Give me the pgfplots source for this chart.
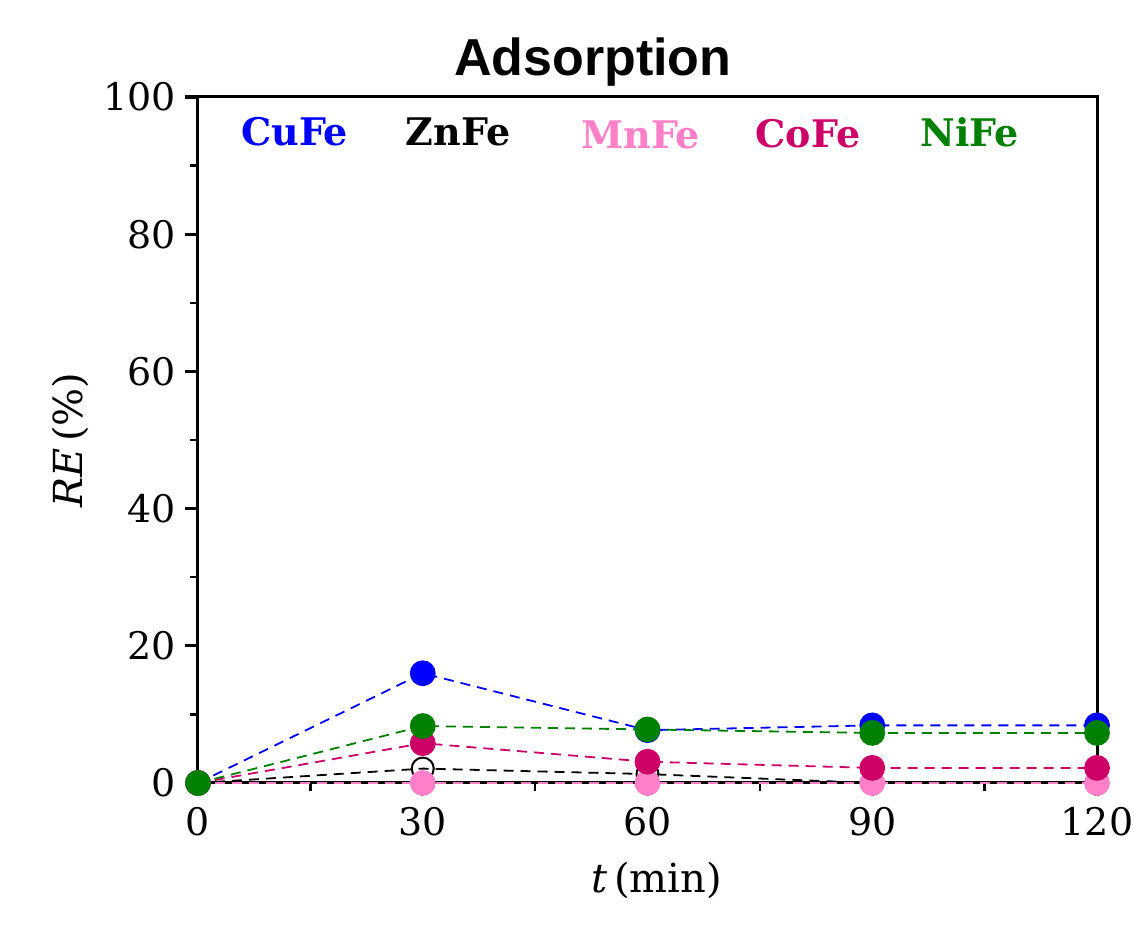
\documentclass[border=0pt]{standalone}
\usepackage{fontspec}
\setmainfont{DejaVu Serif}
\newfontfamily\titlefont{Liberation Sans}
\usepackage{pgfplots}
\pgfplotsset{compat=1.18}
\definecolor{cuc}{RGB}{0,0,255}
\definecolor{mnc}{RGB}{255,128,200}
\definecolor{coc}{RGB}{204,0,102}
\definecolor{nic}{RGB}{0,128,0}
\begin{document}
\begin{tikzpicture}
\begin{axis}[
  scale only axis, width=449.5pt, height=343pt,
  xmin=0, xmax=120, ymin=0, ymax=100,
  xtick={0,30,60,90,120}, ytick={0,20,40,60,80,100},
  minor xtick={15,45,75,105}, minor ytick={10,30,50,70,90},
  xtick pos=bottom, ytick pos=left,
  xtick align=outside, ytick align=outside,
  major tick length=6.5pt, minor tick length=4pt,
  every tick/.style={black, line width=1.2pt},
  every major tick/.style={black, line width=1.6pt},
  axis line style={line width=1.5pt},
  clip=false,
  /pgf/number format/assume math mode=true,
  ticklabel style={font=\fontsize{19}{22}\selectfont},
  xticklabel style={yshift=-2pt},
  yticklabel style={xshift=-1pt},
  xlabel={\textit{t}\,(min)}, ylabel={\textit{RE}\,(\%)},
  label style={font=\fontsize{20}{24}\selectfont},
  xlabel style={at={(axis description cs:0.51,-0.1414)}, anchor=center},
  ylabel style={at={(axis description cs:-0.1424,0.5)}, anchor=center},
  title={\titlefont\bfseries Adsorption},
  title style={font=\fontsize{26}{30}\selectfont, at={(axis description cs:0.439,1.033)}, anchor=center},
]
\addplot[cuc, line width=0.9pt, dash pattern=on 5pt off 3.5pt, mark=*, mark size=6pt, mark options={solid, fill=cuc, draw=cuc}] coordinates {(0,0) (30,16.0) (60,7.7) (90,8.4) (120,8.4)};
\addplot[black, line width=0.9pt, dash pattern=on 5pt off 3.5pt, mark=o, mark size=5.5pt, mark options={solid, fill=white, draw=black, line width=1pt}] coordinates {(0,0) (30,2.1) (60,1.3) (90,0) (120,0)};
\addplot[mnc, line width=0.9pt, dash pattern=on 5pt off 3.5pt, mark=*, mark size=6pt, mark options={solid, fill=mnc, draw=mnc}] coordinates {(0,0) (30,0) (60,0) (90,0) (120,0)};
\addplot[coc, line width=0.9pt, dash pattern=on 5pt off 3.5pt, mark=*, mark size=6pt, mark options={solid, fill=coc, draw=coc}] coordinates {(0,0) (30,5.8) (60,3.1) (90,2.2) (120,2.2)};
\addplot[nic, line width=0.9pt, dash pattern=on 5pt off 3.5pt, mark=*, mark size=6pt, mark options={solid, fill=nic, draw=nic}] coordinates {(0,0) (30,8.3) (60,7.8) (90,7.3) (120,7.3)};
\node[cuc, font=\fontsize{19}{22}\selectfont\bfseries] at (axis cs:12.9,94.9) {CuFe};
\node[black, font=\fontsize{19}{22}\selectfont\bfseries] at (axis cs:34.7,94.9) {ZnFe};
\node[mnc, font=\fontsize{19}{22}\selectfont\bfseries] at (axis cs:59.1,94.5) {MnFe};
\node[coc, font=\fontsize{19}{22}\selectfont\bfseries] at (axis cs:81.4,94.7) {CoFe};
\node[nic, font=\fontsize{19}{22}\selectfont\bfseries] at (axis cs:103.0,94.9) {NiFe};
\end{axis}
\pgfresetboundingbox
\path[use as bounding box] (-99pt,-73.5pt) rectangle (468pt,391.5pt);
\end{tikzpicture}
\end{document}
